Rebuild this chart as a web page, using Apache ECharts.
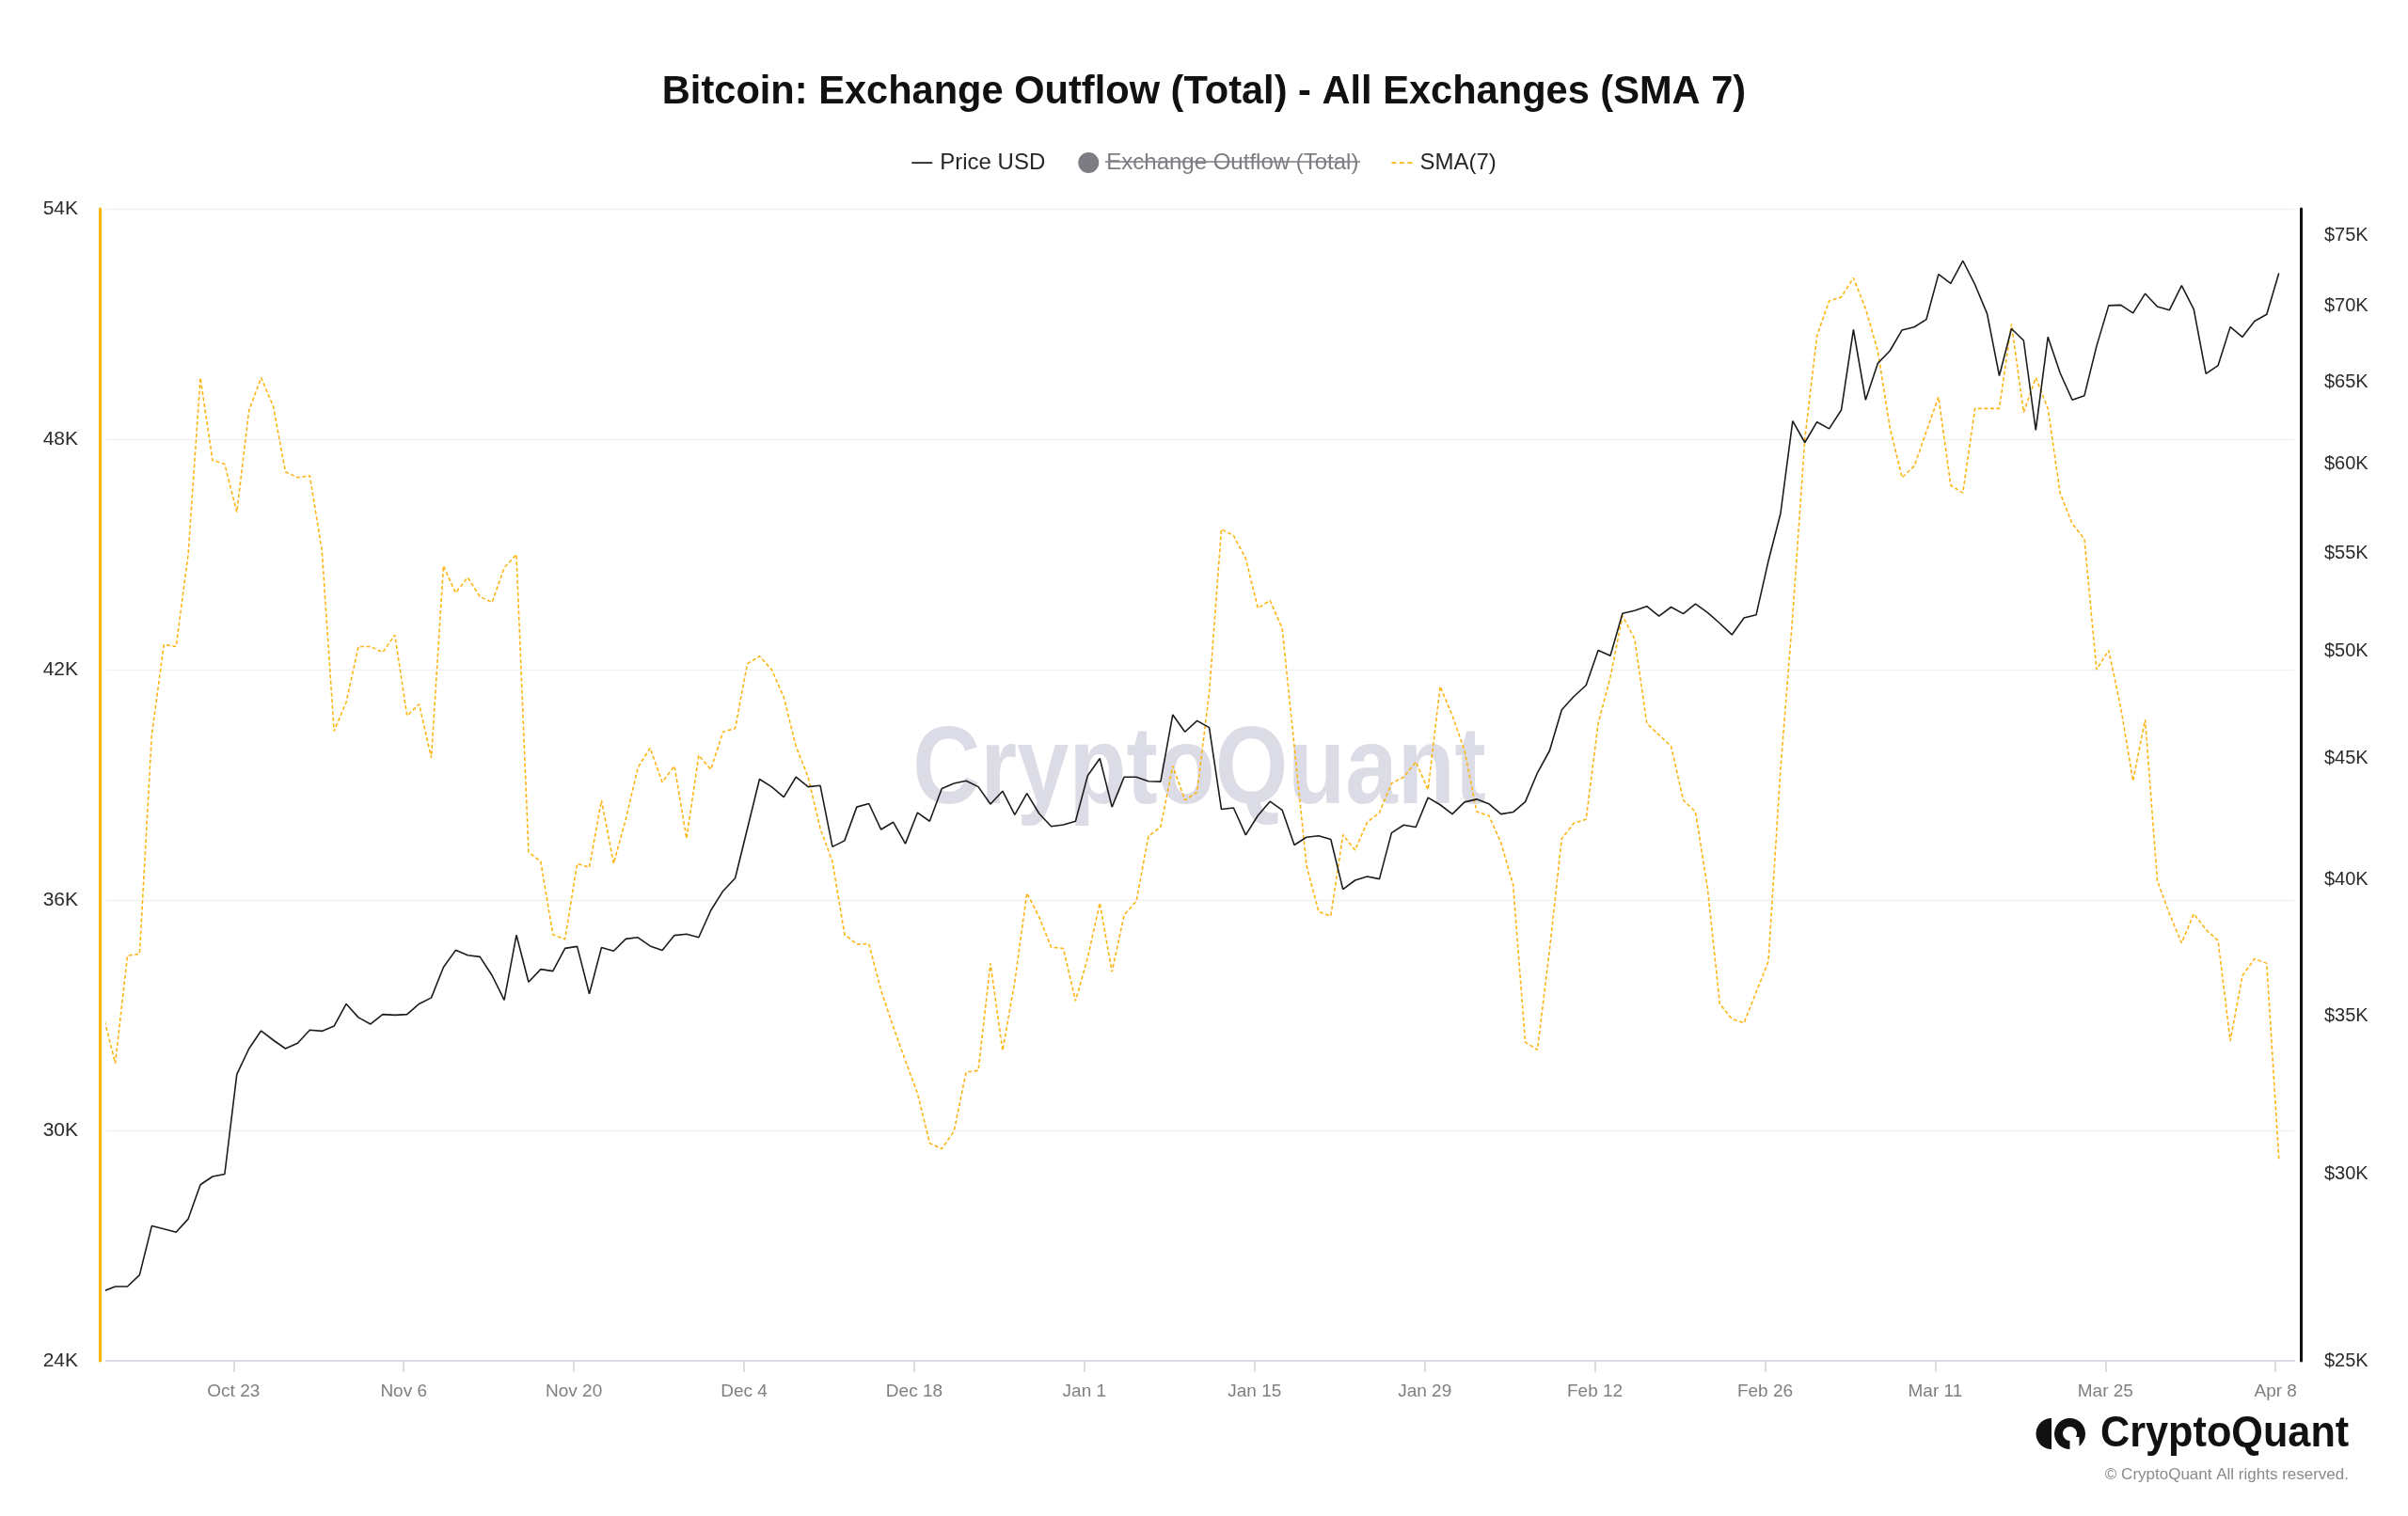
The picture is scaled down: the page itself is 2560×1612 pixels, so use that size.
<!DOCTYPE html>
<html><head><meta charset="utf-8">
<script src="https://cdn.jsdelivr.net/npm/echarts/dist/echarts.min.js"></script>
<style>html,body{margin:0;padding:0;background:#fff}#c{width:2560px;height:1612px}</style>
</head><body><div id="c"></div>
<script>
// ---- data (daily, 2023-10-12 .. 2024-04-08) ----
const startDate = '2023-10-12';
const priceUSD = [
26757,26880,26880,27188,28519,28434,28347,28716,29691,29930,
29999,33071,33911,34507,34193,33911,34091,34534,34496,34666,
35426,34958,34732,35063,35038,35063,35426,35640,36714,37332,
37146,37093,36421,35557,37887,36188,36643,36575,37400,37468,
35777,37427,37302,37744,37800,37483,37325,37876,37925,37800,
38812,39553,40054,42032,44118,43789,43349,44210,43789,43842,
41300,41546,42934,43076,42000,42303,41424,42700,42340,43715,
43934,44048,43789,43059,43606,42607,43512,42663,42125,42195,
42340,44267,45017,42934,44210,44210,44028,44010,46984,46202,
46707,46397,42842,42900,41776,42574,43169,42807,41372,41685,
41740,41601,39617,39970,40120,40020,41864,42185,42096,43330,
43027,42640,43140,43260,43070,42640,42720,43150,44390,45360,
47210,47830,48350,50030,49770,51870,52010,52230,51730,52190,
51850,52350,51910,51370,50800,51640,51800,54590,57170,62590,
61290,62530,62120,63260,68430,63890,66210,67030,68400,68600,
69120,72230,71580,73190,71500,69500,65420,68490,67710,62030,
67940,65600,63890,64160,67330,70060,70090,69550,70880,69990,
69750,71440,69800,65550,66080,68610,67940,69000,69460,72300
];
const sma7 = [
33.0,31.75,34.55,34.6,40.3,42.65,42.6,45.0,49.6,47.45,
47.35,46.1,48.75,49.6,48.85,47.15,47.0,47.05,45.1,40.4,
41.15,42.6,42.6,42.45,42.9,40.8,41.1,39.7,44.7,44.0,
44.4,43.9,43.75,44.65,45.0,37.25,37.0,35.1,34.98,36.95,
36.85,38.6,36.95,38.1,39.45,39.96,39.07,39.49,37.6,39.77,
39.4,40.38,40.47,42.15,42.35,42.0,41.28,40.0,39.2,37.86,
37.0,35.1,34.85,34.86,33.65,32.7,31.82,30.96,29.67,29.52,
29.98,31.52,31.56,34.35,32.08,33.87,36.18,35.56,34.77,34.74,
33.37,34.5,35.92,34.13,35.61,35.97,37.66,37.9,39.49,38.6,
38.81,41.4,45.66,45.49,44.9,43.6,43.8,43.08,40.0,36.9,
35.7,35.58,37.7,37.3,38.03,38.27,39.04,39.2,39.6,38.87,
41.56,40.8,39.9,38.3,38.2,37.5,36.4,32.3,32.1,34.7,
37.6,38.0,38.1,40.6,41.8,43.4,42.8,40.6,40.3,40.0,
38.6,38.3,36.3,33.3,32.9,32.8,33.6,34.4,39.4,43.4,
48.0,50.7,51.6,51.7,52.2,51.4,50.3,48.3,47.0,47.3,
48.2,49.1,46.8,46.6,48.8,48.8,48.8,51.0,48.7,49.6,
48.8,46.6,45.8,45.4,42.0,42.5,41.0,39.1,40.7,36.5,
35.64,34.88,35.64,35.23,34.94,32.33,34.03,34.47,34.35,29.26
]; // thousands
const exchangeOutflowTotal = []; // series hidden in the legend
const xTickDates = ['2023-10-23','2023-11-06','2023-11-20','2023-12-04','2023-12-18','2024-01-01','2024-01-15','2024-01-29','2024-02-12','2024-02-26','2024-03-11','2024-03-25','2024-04-08'];
const xTickLabels = ['Oct 23','Nov 6','Nov 20','Dec 4','Dec 18','Jan 1','Jan 15','Jan 29','Feb 12','Feb 26','Mar 11','Mar 25','Apr 8'];
const leftTicks = [24000,30000,36000,42000,48000,54000];
const priceTicks = [25000,30000,35000,40000,45000,50000,55000,60000,65000,70000,75000];

// ---- build: x measured in days since startDate ----
const DAY = 86400000;
const t0 = Date.parse(startDate + 'T00:00:00Z');
const pointShift = 0.27;            // sample time inside the day
const axisMin = 0.53;
const axisMax = axisMin + 180;
const xDays = priceUSD.map((_, i) => i + pointShift);
const tickDays = xTickDates.map(d => (Date.parse(d + 'T00:00:00Z') - t0) / DAY);
const tickLabelFor = v => { for (let i = 0; i < tickDays.length; i++) if (Math.abs(tickDays[i] - v) < 0.01) return xTickLabels[i]; return ''; };

const FONT = '"Liberation Sans", Arial, sans-serif';
const ORANGE = '#FDB515';
const linePath = 'path://M0,0h0.01v0.01h-0.01z M0,10.2h22v1.8h-22z M21.99,21.99h0.01v0.01h-0.01z';
const dashPath = 'path://M0,0h0.01v0.01h-0.01z M0,10.2h5v1.8h-5z M8.5,10.2h5v1.8h-5z M17,10.2h5v1.8h-5z M21.99,21.99h0.01v0.01h-0.01z';

const chart = echarts.init(document.getElementById('c'), null, {renderer: 'canvas'});
chart.setOption({
  backgroundColor: '#ffffff',
  animation: false,
  title: {
    text: 'Bitcoin: Exchange Outflow (Total) - All Exchanges (SMA 7)',
    left: 'center', top: 73,
    textStyle: {fontSize: 41.6, fontWeight: 'bold', color: '#111111', fontFamily: FONT}
  },
  legend: {
    top: 156, left: 'center', itemWidth: 22, itemHeight: 22, itemGap: 35,
    textStyle: {fontSize: 24, color: '#262626', fontFamily: FONT, padding: [0, 0, 0, 3]},
    inactiveColor: '#7c7c82',
    selected: {'Exchange Outflow (Total)': false},
    data: [
      {name: 'Price USD', icon: linePath, itemStyle: {color: '#222'}},
      {name: 'Exchange Outflow (Total)', icon: 'circle'},
      {name: 'SMA(7)', icon: dashPath, itemStyle: {color: ORANGE}}
    ],
    itemStyle: {borderWidth: 0}, lineStyle: {width: 0}
  },
  grid: {left: 113, right: 121, top: 222, bottom: 165, containLabel: false},
  xAxis: {
    type: 'value', min: axisMin, max: axisMax,
    axisLine: {show: true, onZero: false, lineStyle: {color: '#d9dce4', width: 2}},
    axisTick: {show: true, customValues: tickDays, length: 12, lineStyle: {color: '#d3d3d3', width: 1.5}},
    axisLabel: {customValues: tickDays, formatter: v => tickLabelFor(v), color: '#7f7f7f', fontSize: 19, margin: 23, fontFamily: FONT},
    splitLine: {show: false}
  },
  yAxis: [
    {
      type: 'value', position: 'left', min: 24000, max: 54000, interval: 6000, offset: 7,
      axisLine: {show: true, lineStyle: {color: '#F7B500', width: 3}},
      axisTick: {show: false},
      axisLabel: {formatter: v => (v / 1000) + 'K', color: '#2b2b2b', fontSize: 21, margin: 23, fontFamily: FONT},
      splitLine: {show: true, lineStyle: {color: '#f1f1f1', width: 1.3}}
    },
    {
      type: 'log', position: 'right', min: 25000, max: 77000, logBase: 10, offset: 7,
      axisLine: {show: true, lineStyle: {color: '#111111', width: 3}},
      axisTick: {show: false},
      axisLabel: {customValues: priceTicks, formatter: v => '$' + Math.round(v / 1000) + 'K', color: '#2b2b2b', fontSize: 20, margin: 25, fontFamily: FONT},
      splitLine: {show: false}
    }
  ],
  series: [
    {
      name: 'Exchange Outflow (Total)', type: 'line', yAxisIndex: 0, data: exchangeOutflowTotal,
      showSymbol: false, itemStyle: {color: '#7c7c82'}, lineStyle: {color: '#7c7c82'}
    },
    {
      name: 'SMA(7)', type: 'line', yAxisIndex: 0, z: 2,
      data: sma7.map((v, i) => [xDays[i], v * 1000]),
      showSymbol: false, clip: true,
      itemStyle: {color: ORANGE},
      lineStyle: {color: ORANGE, width: 1.6, type: [4, 2.5]}
    },
    {
      name: 'Price USD', type: 'line', yAxisIndex: 1, z: 3,
      data: priceUSD.map((v, i) => [xDays[i], v]),
      showSymbol: false, clip: true,
      itemStyle: {color: '#222222'},
      lineStyle: {color: '#1c1c1c', width: 1.6}
    }
  ],
  graphic: [
    {type: 'text', z: 0, silent: true, x: 1275, y: 822, scaleX: 0.86,
     style: {text: 'CryptoQuant', font: 'bold 116px ' + FONT, fill: 'rgba(208,208,222,0.75)', align: 'center', verticalAlign: 'middle'}},
    {type: 'line', z: 100, silent: true, shape: {x1: 1175, y1: 172, x2: 1446, y2: 172}, style: {stroke: '#7c7c82', lineWidth: 1.6}},
    {type: 'group', x: 2163, y: 1508, children: [
      {type: 'sector', shape: {cx: 18, cy: 16.5, r0: 0, r: 16.5, startAngle: Math.PI / 2, endAngle: Math.PI * 1.5}, style: {fill: '#111'}},
      {type: 'circle', shape: {cx: 37.5, cy: 16.5, r: 16.5}, style: {fill: '#111'}},
      {type: 'circle', shape: {cx: 37.5, cy: 16.5, r: 7.5}, style: {fill: '#fff'}},
      {type: 'rect', shape: {x: 37.5, y: 20, width: 10, height: 14}, style: {fill: '#fff'}}
    ]},
    {type: 'text', x: 2233, y: 1525, scaleX: 0.92,
     style: {text: 'CryptoQuant', font: 'bold 47px ' + FONT, fill: '#111', align: 'left', verticalAlign: 'middle'}},
    {type: 'text', x: 2497, y: 1568,
     style: {text: '\u00A9 CryptoQuant All rights reserved.', font: '17px ' + FONT, fill: '#8a8a8a', align: 'right', verticalAlign: 'middle'}}
  ]
});
</script></body></html>
